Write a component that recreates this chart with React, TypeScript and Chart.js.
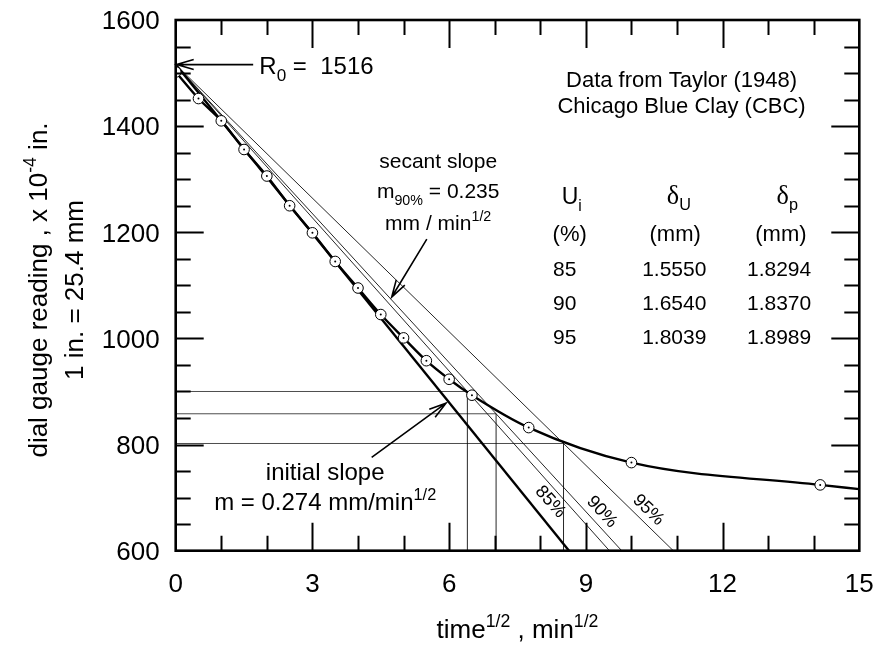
import React, { useEffect, useRef } from "react";
import { Chart, registerables } from "chart.js";

Chart.register(...registerables);

// ---------------- DATA ----------------
const timeSqrt = [0, 0.5, 1, 1.5, 2, 2.5, 3, 3.5, 4, 4.5, 5, 5.5, 6, 6.5, 7.746, 10, 14.142];
const dialReading = [1502, 1452, 1410, 1356, 1306, 1250, 1199, 1145, 1095, 1045, 1001, 958, 923, 893, 832, 766, 724];
const curveEndX = [15];
const curveEndY = [716];
const R0 = 1516;
const initialSlopeIntercept = 8.63; // x where initial slope line reaches 600
const uPercent = [85, 90, 95];
const uLabels = ["85", "90", "95"];
const deltaU = ["1.5550", "1.6540", "1.8039"];
const deltaP = ["1.8294", "1.8370", "1.8989"];
const tU = [6.4, 7.03, 8.51];
const readingU = [900, 858, 802];
const xTickValues = [0, 3, 6, 9, 12, 15];
const yTickValues = [600, 800, 1000, 1200, 1400, 1600];
const X_MIN = 0, X_MAX = 15, Y_MIN = 600, Y_MAX = 1600;

// ---------------- STYLE ----------------
const FONT = "'Liberation Sans', Arial, Helvetica, sans-serif";
const SERIF = "'Liberation Serif', 'DejaVu Serif', serif";

type Seg = { t: string; k?: "n" | "sup" | "sub"; f?: string; s?: number };

function drawRich(ctx: CanvasRenderingContext2D, segs: Seg[], x: number, y: number, align: string, size: number) {
  const parts = segs.map((sg) => {
    const k = sg.k || "n";
    const sz = (sg.s ?? 1) * (k === "n" ? size : size * 0.68);
    const font = `${sz}px ${sg.f || FONT}`;
    ctx.font = font;
    const w = ctx.measureText(sg.t).width;
    const dy = k === "sup" ? -size * 0.42 : k === "sub" ? size * 0.3 : 0;
    return { t: sg.t, font, w, dy };
  });
  const total = parts.reduce((a, p) => a + p.w, 0);
  let cx = align === "center" ? x - total / 2 : align === "right" ? x - total : x;
  ctx.textAlign = "left";
  ctx.textBaseline = "alphabetic";
  for (const p of parts) {
    ctx.font = p.font;
    ctx.fillText(p.t, cx, y + p.dy);
    cx += p.w;
  }
}

function drawArrow(ctx: CanvasRenderingContext2D, x1: number, y1: number, x2: number, y2: number, lw: number) {
  const ang = Math.atan2(y2 - y1, x2 - x1);
  const hl = 17, hw = 5;
  ctx.save();
  ctx.strokeStyle = "#000";
  ctx.lineWidth = lw;
  ctx.beginPath();
  ctx.moveTo(x1, y1);
  ctx.lineTo(x2, y2);
  const bx = x2 - hl * Math.cos(ang), by = y2 - hl * Math.sin(ang);
  const px = -Math.sin(ang) * hw, py = Math.cos(ang) * hw;
  ctx.moveTo(bx + px, by + py);
  ctx.lineTo(x2, y2);
  ctx.lineTo(bx - px, by - py);
  ctx.stroke();
  ctx.restore();
}

const overlay = {
  id: "overlay",
  afterDraw(chart: any) {
    const ctx: CanvasRenderingContext2D = chart.ctx;
    const xs = chart.scales.x, ys = chart.scales.y;
    const X = (v: number) => xs.getPixelForValue(v);
    const Y = (v: number) => ys.getPixelForValue(v);
    const { left, right, top, bottom } = chart.chartArea;
    ctx.save();
    ctx.fillStyle = "#000";
    ctx.strokeStyle = "#000";

    // ticks (inward)
    ctx.lineWidth = 2;
    ctx.beginPath();
    for (let v = X_MIN + 1; v < X_MAX; v += 1) {
      const len = v % 3 === 0 ? 28 : 15;
      const p = Math.round(X(v)) + 0.5;
      ctx.moveTo(p, bottom); ctx.lineTo(p, bottom - len);
      ctx.moveTo(p, top); ctx.lineTo(p, top + len);
    }
    for (let v = Y_MIN + 50; v < Y_MAX; v += 50) {
      const len = v % 200 === 0 ? 28 : 15;
      const p = Math.round(Y(v)) + 0.5;
      ctx.moveTo(left, p); ctx.lineTo(left + len, p);
      ctx.moveTo(right, p); ctx.lineTo(right - len, p);
    }
    ctx.stroke();

    // frame
    ctx.lineWidth = 2.6;
    ctx.strokeRect(left, top, right - left, bottom - top);

    // tick labels
    xTickValues.forEach((v) => drawRich(ctx, [{ t: String(v) }], X(v), bottom + 41, "center", 26));
    yTickValues.forEach((v) => drawRich(ctx, [{ t: String(v) }], left - 16, Y(v) + 9.3, "right", 26));

    // R0 arrow + label
    drawArrow(ctx, X(1.7), Y(R0), X(0) + 1, Y(R0), 1.6);
    drawRich(ctx, [{ t: "R" }, { t: "0", k: "sub", s: 1.05 }, { t: " =  " + R0 }], X(1.835), Y(1498), "left", 24);

    // data source
    drawRich(ctx, [{ t: "Data from Taylor (1948)" }], X(11.1), Y(1473), "center", 22);
    drawRich(ctx, [{ t: "Chicago Blue Clay (CBC)" }], X(11.1), Y(1424), "center", 22);

    // secant slope annotation
    drawRich(ctx, [{ t: "secant slope" }], X(5.76), Y(1322), "center", 21);
    drawRich(ctx, [{ t: "m" }, { t: "90%", k: "sub" }, { t: " = 0.235" }], X(5.76), Y(1264), "center", 21);
    drawRich(ctx, [{ t: "mm / min" }, { t: "1/2", k: "sup" }], X(5.76), Y(1205), "center", 21);
    drawArrow(ctx, X(5.51), Y(1187), X(4.74), Y(1078), 1.6);

    // initial slope annotation
    drawRich(ctx, [{ t: "initial slope" }], X(3.28), Y(734), "center", 24);
    drawRich(ctx, [{ t: "m = 0.274 mm/min" }, { t: "1/2", k: "sup" }], X(3.28), Y(676), "center", 24);
    drawArrow(ctx, X(4.3), Y(776), X(5.93), Y(878), 1.6);

    // table
    drawRich(ctx, [{ t: "U" }, { t: "i", k: "sub" }], X(8.47), Y(1254), "left", 23);
    drawRich(ctx, [{ t: "δ", f: SERIF, s: 1.25 }, { t: "U", k: "sub", s: 1.14 }], X(11.04), Y(1254), "center", 21);
    drawRich(ctx, [{ t: "δ", f: SERIF, s: 1.25 }, { t: "p", k: "sub", s: 1.14 }], X(13.42), Y(1254), "center", 21);
    drawRich(ctx, [{ t: "(%)" }], X(8.27), Y(1184), "left", 22);
    drawRich(ctx, [{ t: "(mm)" }], X(10.96), Y(1184), "center", 22);
    drawRich(ctx, [{ t: "(mm)" }], X(13.28), Y(1184), "center", 22);
    const rowY = [1118.5, 1054.4, 990.3];
    uLabels.forEach((u, i) => {
      drawRich(ctx, [{ t: u }], X(8.28), Y(rowY[i]), "left", 21);
      drawRich(ctx, [{ t: deltaU[i] }], X(10.94), Y(rowY[i]), "center", 21);
      drawRich(ctx, [{ t: deltaP[i] }], X(13.24), Y(rowY[i]), "center", 21);
    });

    // percentage labels along secant lines
    const pctPos = [[8.22, 692], [9.35, 673], [10.37, 676.5]];
    uPercent.forEach((u, i) => {
      const xi = tU[i] * (R0 - Y_MIN) / (R0 - readingU[i]);
      const ang = Math.atan2(Y(Y_MIN) - Y(R0), X(xi) - X(0));
      ctx.save();
      ctx.translate(X(pctPos[i][0]), Y(pctPos[i][1]));
      ctx.rotate(ang);
      ctx.font = `18px ${FONT}`;
      ctx.textAlign = "center";
      ctx.textBaseline = "middle";
      ctx.fillText(u + "%", 0, 0);
      ctx.restore();
    });

    // axis titles
    drawRich(ctx, [{ t: "time" }, { t: "1/2", k: "sup" }, { t: " , min" }, { t: "1/2", k: "sup" }], (left + right) / 2, 638, "center", 26);
    ctx.save();
    ctx.translate(47, 290);
    ctx.rotate(-Math.PI / 2);
    drawRich(ctx, [{ t: "dial gauge reading , x 10" }, { t: "-4", k: "sup" }, { t: " in." }], 0, 0, "center", 26);
    ctx.restore();
    ctx.save();
    ctx.translate(83, 290);
    ctx.rotate(-Math.PI / 2);
    drawRich(ctx, [{ t: "1 in. = 25.4 mm" }], 0, 0, "center", 26);
    ctx.restore();

    ctx.restore();
  },
};

export default function App() {
  const ref = useRef<HTMLCanvasElement>(null);
  useEffect(() => {
    document.body.style.margin = "0";
    const pts = timeSqrt.map((x, i) => ({ x, y: dialReading[i] }));
    const curve = pts.concat(curveEndX.map((x, i) => ({ x, y: curveEndY[i] })));
    const thin = { showLine: true, pointRadius: 0, borderColor: "rgba(0,0,0,0.85)", borderWidth: 1, tension: 0 };
    const secants = uPercent.map((u, i) => ({
      ...thin,
      label: `${u}% secant`,
      order: 5,
      data: [
        { x: 0, y: R0 },
        { x: tU[i] * (R0 - Y_MIN) / (R0 - readingU[i]), y: Y_MIN },
      ],
    }));
    const horiz = uPercent.map((u, i) => ({
      ...thin,
      label: `${u}% h`,
      order: 6,
      borderColor: "rgba(0,0,0,0.7)",
      data: [{ x: 0, y: readingU[i] }, { x: tU[i], y: readingU[i] }],
    }));
    const vert = uPercent.map((u, i) => ({
      ...thin,
      label: `${u}% v`,
      order: 6,
      data: [{ x: tU[i], y: Y_MIN }, { x: tU[i], y: readingU[i] }],
    }));
    const chart = new Chart(ref.current as HTMLCanvasElement, {
      type: "scatter",
      data: {
        datasets: [
          {
            label: "dots",
            order: 0,
            data: pts,
            pointRadius: 1,
            pointBackgroundColor: "#000",
            pointBorderWidth: 0,
            showLine: false,
          } as any,
          {
            label: "readings",
            order: 1,
            data: pts,
            pointRadius: 5.3,
            pointBackgroundColor: "#fff",
            pointBorderColor: "#000",
            pointBorderWidth: 1,
            showLine: false,
          },
          {
            type: "line",
            label: "curve",
            order: 2,
            data: curve,
            borderColor: "#000",
            borderWidth: 2.4,
            pointRadius: 0,
            cubicInterpolationMode: "monotone",
          } as any,
          {
            label: "initial slope",
            order: 3,
            data: [{ x: 0, y: R0 }, { x: initialSlopeIntercept, y: Y_MIN }],
            showLine: true,
            pointRadius: 0,
            borderColor: "#000",
            borderWidth: 2.4,
          },
          ...secants,
          ...horiz,
          ...vert,
        ] as any,
      },
      options: {
        animation: false,
        responsive: false,
        maintainAspectRatio: false,
        layout: { padding: { left: 0, right: 17.7, top: 20, bottom: 0 } },
        plugins: { legend: { display: false }, tooltip: { enabled: false } },
        scales: {
          x: {
            type: "linear",
            min: X_MIN,
            max: X_MAX,
            afterBuildTicks: (s: any) => { s.ticks = xTickValues.map((v) => ({ value: v })); },
            afterFit: (s: any) => { s.height = 102.3; },
            grid: { display: false, drawTicks: false },
            border: { display: false },
            ticks: { display: false },
          },
          y: {
            type: "linear",
            min: Y_MIN,
            max: Y_MAX,
            afterBuildTicks: (s: any) => { s.ticks = yTickValues.map((v) => ({ value: v })); },
            afterFit: (s: any) => { s.width = 175.7; },
            grid: { display: false, drawTicks: false },
            border: { display: false },
            ticks: { display: false },
          },
        },
      } as any,
      plugins: [overlay],
    });
    return () => chart.destroy();
  }, []);
  return (
    <div style={{ width: 877, height: 653 }}>
      <canvas ref={ref} width={877} height={653} style={{ width: 877, height: 653, display: "block" }} />
    </div>
  );
}
